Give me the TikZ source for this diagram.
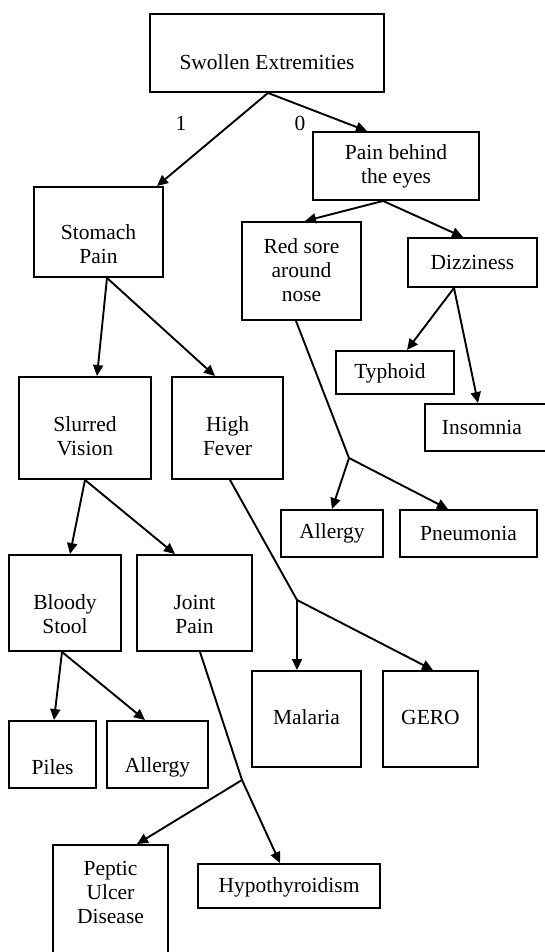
\documentclass[tikz,border=0pt]{standalone}
\usepackage{fontspec}
\setmainfont{Liberation Serif}
\usetikzlibrary{arrows.meta}

\begin{document}
\begin{tikzpicture}[x=1pt,y=-1pt,
  dbox/.style={draw=black, line width=1.9pt, inner sep=0pt, rectangle},
  lbl/.style={align=center, inner sep=0pt, font=\fontsize{21.5}{24}\selectfont},
  edge/.style={line width=1.9pt, -{Triangle[length=11pt,width=10pt]}},
  plain/.style={line width=1.9pt}]

\useasboundingbox (0,0) rectangle (545,952);
\path[clip] (0,0) rectangle (545,952);

% decision boxes (drawn frames)
\node[dbox, minimum width=234pt, minimum height=78pt]  (se)  at (267,53)    {};
\node[dbox, minimum width=166pt, minimum height=68pt]  (pbe) at (396,166)   {};
\node[dbox, minimum width=129pt, minimum height=90pt]  (sp)  at (98.5,232)  {};
\node[dbox, minimum width=119pt, minimum height=98pt]  (rs)  at (301.5,271) {};
\node[dbox, minimum width=129pt, minimum height=49pt]  (dz)  at (472.5,262.5) {};
\node[dbox, minimum width=118pt, minimum height=43pt]  (ty)  at (395,372.5) {};
\node[dbox, minimum width=135pt, minimum height=47pt]  (in)  at (492.5,427.5) {};
\node[dbox, minimum width=132pt, minimum height=102pt] (sv)  at (85,428)    {};
\node[dbox, minimum width=111pt, minimum height=102pt] (hf)  at (227.5,428) {};
\node[dbox, minimum width=102pt, minimum height=47pt]  (alr) at (332,533.5) {};
\node[dbox, minimum width=137pt, minimum height=47pt]  (pn)  at (468.5,533.5) {};
\node[dbox, minimum width=112pt, minimum height=96pt]  (bs)  at (65,603)    {};
\node[dbox, minimum width=115pt, minimum height=96pt]  (jp)  at (194.5,603) {};
\node[dbox, minimum width=109pt, minimum height=96pt]  (ma)  at (306.5,719) {};
\node[dbox, minimum width=95pt,  minimum height=96pt]  (ge)  at (430.5,719) {};
\node[dbox, minimum width=87pt,  minimum height=67pt]  (pi)  at (52.5,754.5) {};
\node[dbox, minimum width=101pt, minimum height=67pt]  (all) at (157.5,754.5) {};
\node[dbox, minimum width=115pt, minimum height=125pt] (pu)  at (110.5,907.5) {};
\node[dbox, minimum width=182pt, minimum height=44pt]  (hy)  at (289,886)   {};

% box texts
\node[lbl] (se-t)  at (267,62)    {Swollen Extremities};
\node[lbl] (pbe-t) at (396,166)   {Pain behind\\the eyes};
\node[lbl] (sp-t)  at (98.5,244)  {Stomach\\Pain};
\node[lbl] (rs-t)  at (301.5,270) {Red sore\\around\\nose};
\node[lbl] (dz-t)  at (472.5,262) {Dizziness};
\node[lbl] (ty-t)  at (390,373)   {Typhoid};
\node[lbl] (in-t)  at (482,427)   {Insomnia};
\node[lbl] (sv-t)  at (85,436)    {Slurred\\Vision};
\node[lbl] (hf-t)  at (227.5,436) {High\\Fever};
\node[lbl] (alr-t) at (332,533)   {Allergy};
\node[lbl] (pn-t)  at (468.5,533) {Pneumonia};
\node[lbl] (bs-t)  at (65,614)    {Bloody\\Stool};
\node[lbl] (jp-t)  at (194.5,614) {Joint\\Pain};
\node[lbl] (ma-t)  at (306.5,717) {Malaria};
\node[lbl] (ge-t)  at (430.5,717) {GERO};
\node[lbl] (pi-t)  at (52.5,767)  {Piles};
\node[lbl] (all-t) at (157.5,767) {Allergy};
\node[lbl] (pu-t)  at (110.5,892) {Peptic\\Ulcer\\Disease};
\node[lbl] (hy-t)  at (289,887)   {Hypothyroidism};

% branch labels
\node[lbl] (yes) at (181,123) {1};
\node[lbl] (no)  at (300,123) {0};

% junction points where a connector splits
\coordinate (b1) at (349,458);
\coordinate (b2) at (297,600);
\coordinate (b3) at (242,780);

% connectors
\draw[edge] ([xshift=1pt]se.south) -- ([xshift=58.5pt]sp.north);
\draw[edge] ([xshift=1pt]se.south) -- ([xshift=-29pt]pbe.north);

\draw[edge] ([xshift=-13pt]pbe.south) -- ([xshift=3.5pt]rs.north);
\draw[edge] ([xshift=-13pt]pbe.south) -- ([xshift=-9.5pt]dz.north);

\draw[edge] ([xshift=8.5pt]sp.south) -- ([xshift=12pt]sv.north);
\draw[edge] ([xshift=8.5pt]sp.south) -- ([xshift=-12.5pt]hf.north);

\draw[plain] ([xshift=-5.5pt]rs.south) -- (b1);
\draw[edge] (b1) -- (alr.north);
\draw[edge] (b1) -- ([xshift=-20.5pt]pn.north);

\draw[edge] ([xshift=-18.5pt]dz.south) -- ([xshift=12pt]ty.north);
\draw[edge] ([xshift=-18.5pt]dz.south) -- ([xshift=-14.5pt]in.north);

\draw[edge] (sv.south) -- ([xshift=5pt]bs.north);
\draw[edge] (sv.south) -- ([xshift=-19.5pt]jp.north);

\draw[plain] ([xshift=2.5pt]hf.south) -- (b2);
\draw[edge] (b2) -- ([xshift=-9.5pt]ma.north);
\draw[edge] (b2) -- ([xshift=2.5pt]ge.north);

\draw[edge] ([xshift=-3pt]bs.south) -- ([xshift=1.5pt]pi.north);
\draw[edge] ([xshift=-3pt]bs.south) -- ([xshift=-12.5pt]all.north);

\draw[plain] ([xshift=5.5pt]jp.south) -- (b3);
\draw[edge] (b3) -- ([xshift=-9pt]hy.north);
\draw[edge] (b3) -- ([xshift=26.5pt]pu.north);

\end{tikzpicture}
\end{document}
